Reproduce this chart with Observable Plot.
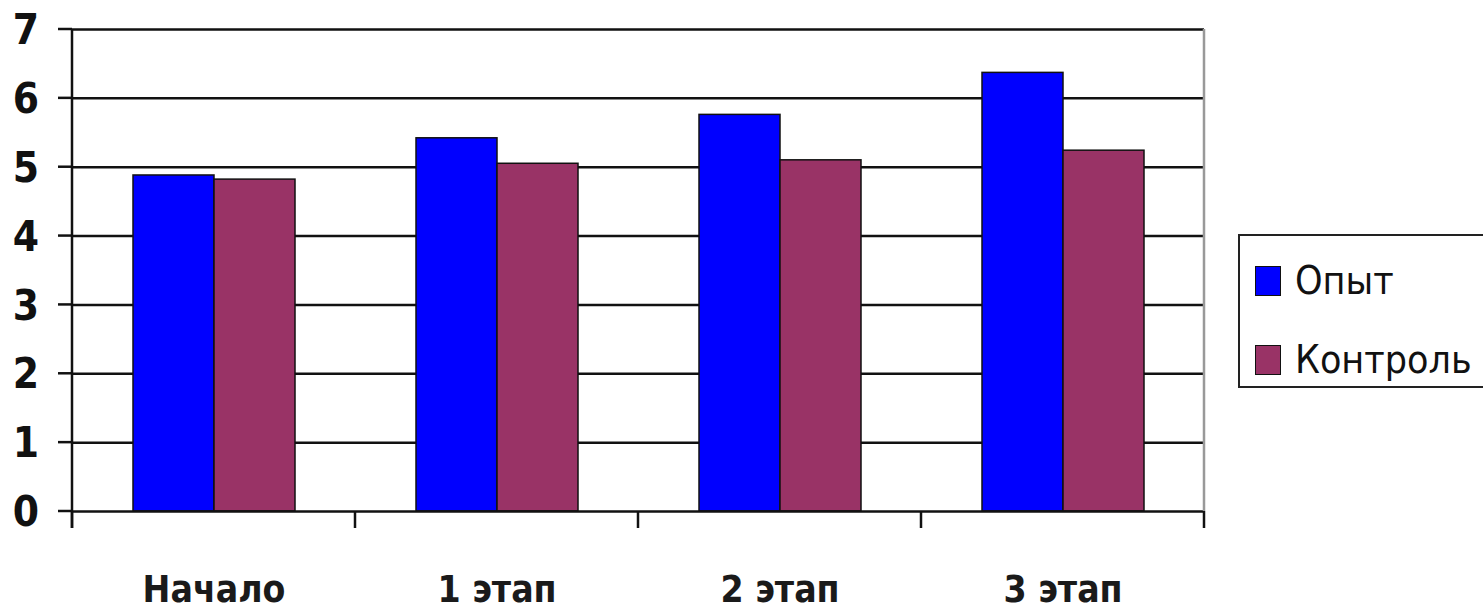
<!DOCTYPE html>
<html><head><meta charset="utf-8">
<script src="https://cdn.jsdelivr.net/npm/d3@7"></script>
<script src="https://cdn.jsdelivr.net/npm/@observablehq/plot@0.6"></script>
<style>
body{margin:0;background:#fff;overflow:hidden;}
#wrap{position:relative;width:1483px;height:611px;overflow:hidden;}
.legend{position:absolute;left:1238px;top:234px;width:280px;height:154px;border:2px solid #222;box-sizing:border-box;background:#fff;
 font-family:"DejaVu Sans Condensed","DejaVu Sans",sans-serif;font-size:39px;color:#111;}
.item{position:absolute;left:15px;display:flex;align-items:center;}
.sw{width:26px;height:30px;border:1.5px solid #111;box-sizing:border-box;margin-right:14px;}
</style></head><body><div id="wrap"></div>
<script>
const categories = ["Начало", "1 этап", "2 этап", "3 этап"];
const seriesNames = ["Опыт", "Контроль"];
const opyt = [4.88, 5.42, 5.76, 6.37];
const kontrol = [4.82, 5.05, 5.10, 5.24];
const yTicks = [0, 1, 2, 3, 4, 5, 6, 7];
const colors = ["#0000FF", "#993366"];

const data = categories.flatMap((c, i) => [
  {category: c, series: seriesNames[0], value: opyt[i]},
  {category: c, series: seriesNames[1], value: kontrol[i]}
]);

const font = '"DejaVu Sans Condensed","DejaVu Sans",sans-serif';
const plot = Plot.plot({
  width: 1483, height: 611,
  marginLeft: 71, marginRight: 278, marginTop: 29, marginBottom: 100,
  style: {fontFamily: font, background: "white", color: "black"},
  fx: {domain: categories, padding: 0, label: null, axis: null},
  x: {domain: seriesNames, paddingInner: 0, paddingOuter: 0.73, axis: null},
  y: {domain: [0, 7], label: null, axis: null},
  color: {domain: seriesNames, range: colors},
  marks: [
    Plot.ruleY(yTicks.slice(1), {stroke: "#111", strokeWidth: 2.5}),
    Plot.barY(data, {fx: "category", x: "series", y: "value", fill: "series", stroke: "#111", strokeWidth: 1.5}),
    Plot.ruleY([0], {stroke: "#111", strokeWidth: 2.5}),
    Plot.text(categories, {fx: d => d, text: d => d, frameAnchor: "bottom", dy: 90, fontSize: 37, fontWeight: "bold", fill: "#1a1a1a"})
  ]
});

// axes drawn with the plot's own scales
const fxd = plot.scale("fx"), yd = plot.scale("y");
const bandS = d3.scaleBand(fxd.domain, fxd.range).paddingInner(fxd.paddingInner ?? fxd.padding ?? 0).paddingOuter(fxd.paddingOuter ?? fxd.padding ?? 0).align(fxd.align ?? 0.5);
const fx = v => fxd.apply ? fxd.apply(v) : bandS(v);
const bw = fxd.bandwidth ?? bandS.bandwidth();
const yS = v => yd.apply ? yd.apply(v) : d3.scaleLinear(yd.domain, yd.range)(v);
const y0 = yS(0), y7 = yS(7);
const bounds = categories.map(c => fx(c)).concat([fx(categories[categories.length - 1]) + bw]);
const g = d3.select(plot).append("g").attr("stroke-width", 2.5);
g.append("line").attr("x1", bounds[0]).attr("x2", bounds[0]).attr("y1", y7).attr("y2", y0 + 17).attr("stroke", "#111");
g.append("line").attr("x1", bounds[bounds.length-1]).attr("x2", bounds[bounds.length-1]).attr("y1", y7).attr("y2", y0).attr("stroke", "#999");
g.selectAll("line.t").data(bounds).join("line").attr("class", "t")
  .attr("x1", d => d).attr("x2", d => d).attr("y1", y0).attr("y2", y0 + 17).attr("stroke", "#111");
g.selectAll("line.yt").data(yTicks).join("line").attr("class", "yt")
  .attr("x1", bounds[0] - 14).attr("x2", bounds[0]).attr("y1", d => yS(d)).attr("y2", d => yS(d)).attr("stroke", "#111");
g.selectAll("text.yl").data(yTicks).join("text").attr("class", "yl")
  .attr("x", bounds[0] - 33).attr("y", d => yS(d)).attr("dy", "0.36em").attr("text-anchor", "end")
  .attr("font-size", 42).attr("font-weight", "bold").attr("font-family", font).attr("fill", "#111").attr("stroke", "none")
  .text(d => d);

const wrap = document.getElementById("wrap");
wrap.appendChild(plot);
const leg = document.createElement("div");
leg.className = "legend";
seriesNames.forEach((s, i) => {
  const it = document.createElement("div");
  it.className = "item";
  it.style.top = (i === 0 ? 22 : 101) + "px";
  it.innerHTML = `<div class="sw" style="background:${colors[i]}"></div><span>${s}</span>`;
  leg.appendChild(it);
});
wrap.appendChild(leg);
</script>
</body></html>
